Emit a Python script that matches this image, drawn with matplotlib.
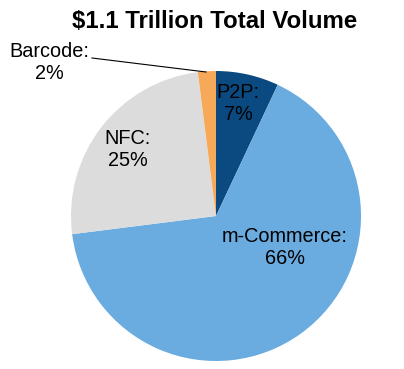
import matplotlib
matplotlib.use("Agg")
import matplotlib.pyplot as plt

labels = ["P2P", "m-Commerce", "NFC", "Barcode"]
shares = [7, 66, 25, 2]
colors = ["#0b4a80", "#6aace0", "#dcdcdc", "#f7a95a"]
title = "$1.1 Trillion Total Volume"

plt.rcParams['font.family'] = ['Liberation Sans', 'DejaVu Sans']

fig = plt.figure(figsize=(4.04, 3.69), dpi=100)
ax = fig.add_axes([0, 0, 1, 1])

# pixel -> data helpers (centre at px 216,216, radius 145 px)
cx, cy, r = 216, 216, 145
def pt(px, py):
    return ((px - cx) / r, (cy - py) / r)

ax.pie(shares, colors=colors, startangle=90, counterclock=False, radius=1,
       wedgeprops=dict(linewidth=0))

ax.set_xlim(-cx / r, (404 - cx) / r)
ax.set_ylim((cy - 369) / r, cy / r)
ax.set_aspect('equal')
ax.axis('off')

fs = 14.3
ls = 1.2
ax.text(*pt(238, 104), f"{labels[0]}:\n{shares[0]}%", ha='center', va='center', fontsize=fs, linespacing=ls)
ax.text(*pt(285, 248), f"{labels[1]}:\n{shares[1]}%", ha='center', va='center', fontsize=fs, linespacing=ls)
ax.text(*pt(128, 150), f"{labels[2]}:\n{shares[2]}%", ha='center', va='center', fontsize=fs, linespacing=ls)
ax.text(*pt(49, 62), f"{labels[3]}:\n{shares[3]}%", ha='center', va='center', fontsize=fs, linespacing=ls)
x0, y0 = pt(92, 58)
x1, y1 = pt(206, 72)
ax.plot([x0, x1], [y0, y1], color='black', linewidth=0.8)

ax.text(*pt(215, 21), title, ha='center', va='center', fontsize=17.3, fontweight='bold')

fig.savefig("out.png", dpi=100)
